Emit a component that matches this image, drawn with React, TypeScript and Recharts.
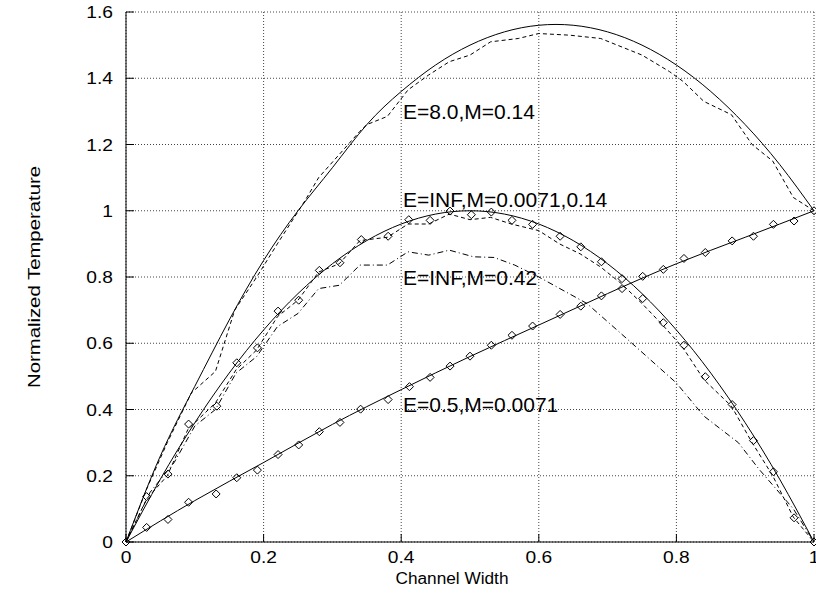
import { LineChart, Line, XAxis, YAxis, CartesianGrid, ReferenceDot } from 'recharts'

// E=8.0 exact and simulated (M=0.14)
const upperExact = [
  [0, 0], [0.05, 0.26], [0.1, 0.47], [0.15, 0.67], [0.2, 0.85], [0.25, 1.0], [0.3, 1.13],
  [0.35, 1.26], [0.4, 1.36], [0.45, 1.44], [0.5, 1.5], [0.55, 1.54], [0.6, 1.56], [0.65, 1.56],
  [0.7, 1.54], [0.75, 1.5], [0.8, 1.44], [0.85, 1.36], [0.9, 1.26], [0.95, 1.14], [1, 1],
]
const upperSim = [
  [0, 0], [0.03, 0.16], [0.06, 0.3], [0.095, 0.45], [0.13, 0.515], [0.158, 0.7], [0.19, 0.8],
  [0.22, 0.9], [0.26, 1.03], [0.28, 1.1], [0.31, 1.17], [0.34, 1.24], [0.35, 1.26], [0.38, 1.285],
  [0.41, 1.365], [0.44, 1.41], [0.47, 1.45], [0.5, 1.47], [0.53, 1.51], [0.57, 1.52], [0.6, 1.535],
  [0.645, 1.53], [0.69, 1.52], [0.75, 1.47], [0.79, 1.42], [0.81, 1.39], [0.84, 1.33], [0.88, 1.29],
  [0.91, 1.2], [0.94, 1.15], [0.97, 1.04], [1, 1],
]

// E=INF exact, M=0.0071 (diamonds), M=0.14 (dashed), M=0.42 (dash-dot)
const middleExact = [
  [0, 0], [0.05, 0.19], [0.1, 0.36], [0.15, 0.51], [0.2, 0.64], [0.25, 0.75], [0.3, 0.84],
  [0.35, 0.91], [0.4, 0.96], [0.45, 0.99], [0.5, 1.0], [0.55, 0.99], [0.6, 0.96], [0.65, 0.91],
  [0.7, 0.84], [0.75, 0.75], [0.8, 0.64], [0.85, 0.51], [0.9, 0.36], [0.95, 0.19], [1, 0],
]
const middleDiamonds = [
  [0, 0], [0.03, 0.137], [0.061, 0.205], [0.091, 0.356], [0.132, 0.41], [0.161, 0.541], [0.191, 0.586],
  [0.221, 0.697], [0.251, 0.73], [0.281, 0.82], [0.311, 0.843], [0.342, 0.913], [0.381, 0.923],
  [0.411, 0.973], [0.442, 0.971], [0.471, 0.999], [0.502, 0.988], [0.531, 0.996], [0.561, 0.971],
  [0.591, 0.959], [0.631, 0.923], [0.661, 0.891], [0.691, 0.846], [0.721, 0.795], [0.751, 0.735],
  [0.781, 0.662], [0.811, 0.594], [0.842, 0.499], [0.881, 0.415], [0.912, 0.306], [0.941, 0.212],
  [0.971, 0.073], [1, 0],
]
const middleSim = [
  [0, 0], [0.03, 0.13], [0.06, 0.2], [0.09, 0.34], [0.13, 0.42], [0.16, 0.52], [0.19, 0.58],
  [0.22, 0.68], [0.25, 0.73], [0.28, 0.815], [0.31, 0.84], [0.34, 0.91], [0.38, 0.92], [0.41, 0.96],
  [0.44, 0.96], [0.47, 0.99], [0.5, 0.973], [0.53, 0.98], [0.56, 0.96], [0.6, 0.94], [0.63, 0.9],
  [0.66, 0.87], [0.69, 0.83], [0.72, 0.78], [0.75, 0.72], [0.78, 0.655], [0.81, 0.585], [0.84, 0.49],
  [0.88, 0.41], [0.91, 0.3], [0.94, 0.2], [0.97, 0.075], [1, 0],
]
const highMSim = [
  [0, 0], [0.035, 0.15], [0.07, 0.24], [0.1, 0.35], [0.13, 0.4], [0.16, 0.51], [0.19, 0.56],
  [0.22, 0.65], [0.25, 0.69], [0.28, 0.765], [0.31, 0.775], [0.34, 0.836], [0.38, 0.836],
  [0.41, 0.876], [0.44, 0.866], [0.47, 0.881], [0.505, 0.861], [0.535, 0.859], [0.565, 0.836],
  [0.6, 0.8], [0.67, 0.72], [0.73, 0.61], [0.8, 0.48], [0.84, 0.38], [0.89, 0.3], [0.92, 0.22],
  [0.97, 0.1], [1, 0],
]

// E=0.5 exact and simulated (M=0.0071)
const lowExact = [
  [0, 0], [0.1, 0.125], [0.2, 0.24], [0.3, 0.355], [0.4, 0.46], [0.5, 0.56], [0.6, 0.655],
  [0.7, 0.75], [0.8, 0.84], [0.9, 0.92], [1, 1],
]
const lowDiamonds = [
  [0, 0], [0.03, 0.044], [0.061, 0.068], [0.091, 0.12], [0.131, 0.145], [0.161, 0.194], [0.191, 0.217],
  [0.221, 0.264], [0.251, 0.293], [0.281, 0.333], [0.311, 0.361], [0.341, 0.401], [0.381, 0.43],
  [0.412, 0.469], [0.442, 0.497], [0.471, 0.531], [0.5, 0.561], [0.531, 0.594], [0.561, 0.624],
  [0.591, 0.652], [0.631, 0.687], [0.661, 0.712], [0.691, 0.743], [0.721, 0.765], [0.751, 0.802],
  [0.781, 0.823], [0.811, 0.856], [0.842, 0.874], [0.881, 0.909], [0.912, 0.923], [0.941, 0.959],
  [0.971, 0.969], [1, 1],
]

const xTicks = [0, 0.2, 0.4, 0.6, 0.8, 1]
const yTicks = [0, 0.2, 0.4, 0.6, 0.8, 1, 1.2, 1.4, 1.6]

const labelTexts = ['E=8.0,M=0.14', 'E=INF,M=0.0071,0.14', 'E=INF,M=0.42', 'E=0.5,M=0.0071']
const labelX = [0.4026, 0.4026, 0.4026, 0.4026]
const labelY = [1.297, 1.032, 0.796, 0.413]

const FONT = '"Liberation Sans", Arial, Helvetica, sans-serif'

const toPts = (arr: number[][]) => arr.map(([x, y]) => ({ x, y }))
const fmt = (v: number) => String(Math.round(v * 10) / 10)

// gnuplot text is a bit wider than it is tall
function WideText({ x, y, anchor, children }: any) {
  return (
    <text
      transform={`translate(${x},${y}) scale(1.2,1)`}
      textAnchor={anchor}
      fontSize={16}
      fontFamily={FONT}
      fill="#000"
    >
      {children}
    </text>
  )
}

function BottomTick({ x, y, payload }: any) {
  return (
    <g>
      <line x1={x} y1={y} x2={x} y2={y - 8} stroke="#000" />
      <WideText x={x} y={y + 21} anchor="middle">{fmt(payload.value)}</WideText>
    </g>
  )
}
function TopTick({ x, y }: any) {
  return <line x1={x} y1={y} x2={x} y2={y + 8} stroke="#000" />
}
function LeftTick({ x, y, payload }: any) {
  return (
    <g>
      <line x1={x} y1={y} x2={x + 8} y2={y} stroke="#000" />
      <WideText x={x - 13} y={y + 6} anchor="end">{fmt(payload.value)}</WideText>
    </g>
  )
}
function RightTick({ x, y }: any) {
  return <line x1={x} y1={y} x2={x - 8} y2={y} stroke="#000" />
}

function renderDiamond(props: any) {
  const { cx, cy, index } = props
  if (cx == null || cy == null) return <g key={index} />
  return (
    <path
      key={index}
      d={`M${cx},${cy - 4}L${cx + 4},${cy}L${cx},${cy + 4}L${cx - 4},${cy}Z`}
      fill="none"
      stroke="#000"
      strokeWidth={1}
    />
  )
}

export default function App() {
  return (
    <div style={{ position: 'absolute', left: 0, top: 0, background: '#fff' }}>
      <LineChart width={816} height={598} margin={{ top: 12, right: 2, left: 0, bottom: 0 }}>
        <CartesianGrid stroke="#444" strokeDasharray="1 2" />
        <XAxis
          xAxisId={0}
          type="number"
          dataKey="x"
          domain={[0, 1]}
          ticks={xTicks}
          height={56}
          tickSize={0}
          tickMargin={0}
          tickLine={false}
          axisLine={{ stroke: '#000' }}
          tick={<BottomTick />}
          interval={0}
          label={{
            content: ({ viewBox }: any) => (
              <text
                x={viewBox.x + viewBox.width / 2 - 18}
                y={viewBox.y + 42}
                textAnchor="middle"
                fontSize={16}
                fontFamily={FONT}
                fill="#000"
                textLength={113}
                lengthAdjust="spacingAndGlyphs"
              >
                Channel Width
              </text>
            ),
          }}
        />
        <XAxis
          xAxisId="top"
          orientation="top"
          type="number"
          dataKey="x"
          domain={[0, 1]}
          ticks={xTicks}
          height={0}
          tickSize={0}
          tickMargin={0}
          tickLine={false}
          axisLine={{ stroke: '#000' }}
          tick={<TopTick />}
          interval={0}
        />
        <YAxis
          yAxisId={0}
          type="number"
          dataKey="y"
          domain={[0, 1.6]}
          ticks={yTicks}
          width={126}
          tickSize={0}
          tickMargin={0}
          tickLine={false}
          axisLine={{ stroke: '#000' }}
          tick={<LeftTick />}
          interval={0}
          label={{
            content: ({ viewBox }: any) => {
              const cx = viewBox.x + 40
              const cy = viewBox.y + viewBox.height / 2
              return (
                <text
                  x={cx}
                  y={cy}
                  transform={`rotate(-90 ${cx} ${cy})`}
                  textAnchor="middle"
                  fontSize={16}
                  fontFamily={FONT}
                  fill="#000"
                  textLength={222}
                  lengthAdjust="spacingAndGlyphs"
                >
                  Normalized Temperature
                </text>
              )
            },
          }}
        />
        <YAxis
          yAxisId="right"
          orientation="right"
          type="number"
          dataKey="y"
          domain={[0, 1.6]}
          ticks={yTicks}
          width={0}
          tickSize={0}
          tickMargin={0}
          tickLine={false}
          axisLine={{ stroke: '#000' }}
          tick={<RightTick />}
          interval={0}
        />

        <Line data={toPts(upperExact)} dataKey="y" type="natural" stroke="#000" strokeWidth={1} dot={false} isAnimationActive={false} />
        <Line data={toPts(upperSim)} dataKey="y" type="linear" stroke="#000" strokeWidth={1} strokeDasharray="4 3" dot={false} isAnimationActive={false} />
        <Line data={toPts(middleExact)} dataKey="y" type="natural" stroke="#000" strokeWidth={1} dot={false} isAnimationActive={false} />
        <Line data={toPts(middleSim)} dataKey="y" type="linear" stroke="#000" strokeWidth={1} strokeDasharray="4 3" dot={false} isAnimationActive={false} />
        <Line data={toPts(highMSim)} dataKey="y" type="linear" stroke="#000" strokeWidth={1} strokeDasharray="6 3 1 3" dot={false} isAnimationActive={false} />
        <Line data={toPts(middleDiamonds)} dataKey="y" type="linear" stroke="none" dot={renderDiamond} isAnimationActive={false} />
        <Line data={toPts(lowExact)} dataKey="y" type="natural" stroke="#000" strokeWidth={1} dot={false} isAnimationActive={false} />
        <Line data={toPts(lowDiamonds)} dataKey="y" type="linear" stroke="none" dot={renderDiamond} isAnimationActive={false} />

        {labelTexts.map((t, i) => (
          <ReferenceDot
            key={t}
            x={labelX[i]}
            y={labelY[i]}
            r={1}
            fill="none"
            stroke="none"
            label={{
              content: ({ viewBox }: any) => (
                <text
                  x={viewBox.x + viewBox.width / 2}
                  y={viewBox.y + viewBox.height / 2 + 7}
                  textAnchor="start"
                  fontSize={21}
                  fontFamily={FONT}
                  fill="#000"
                >
                  {t}
                </text>
              ),
            }}
          />
        ))}
      </LineChart>
    </div>
  )
}
